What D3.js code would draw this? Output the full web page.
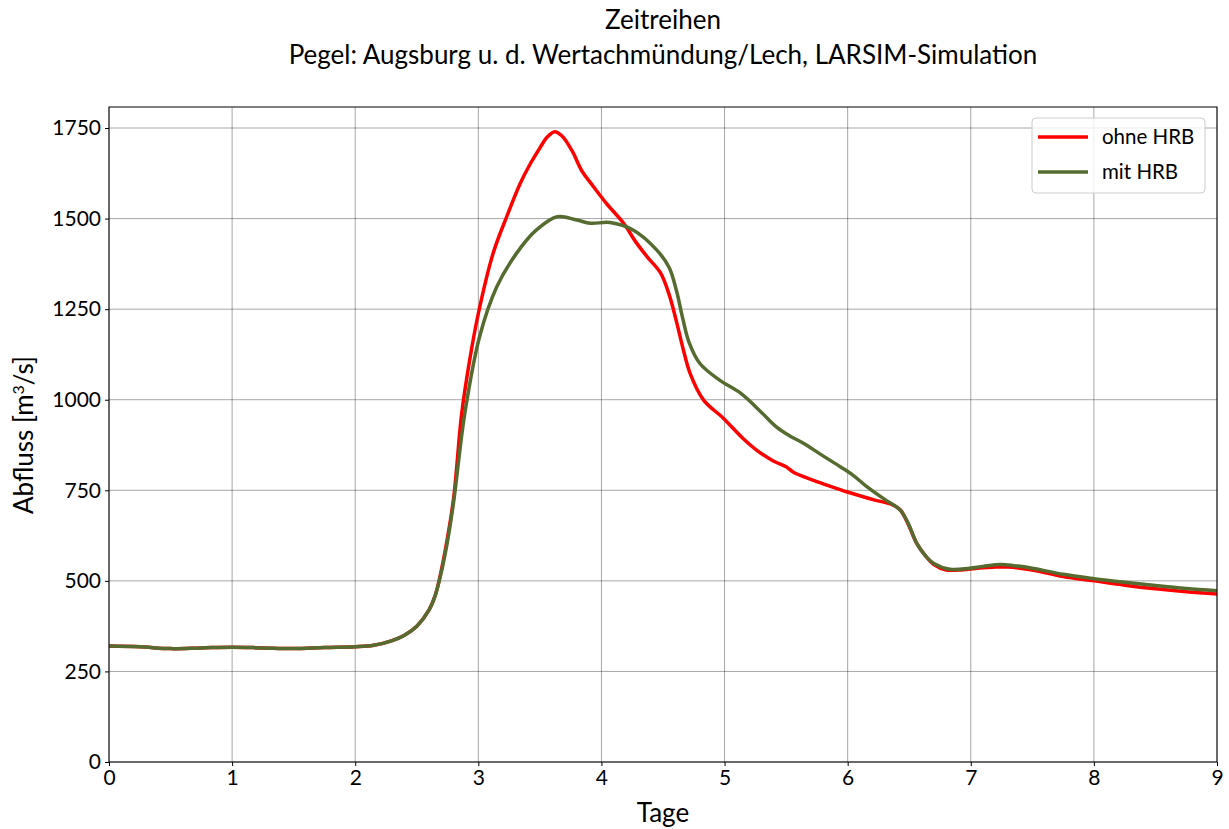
<!DOCTYPE html>
<html><head><meta charset="utf-8">
<script src="https://cdn.jsdelivr.net/npm/d3@7"></script>
<style>body{margin:0;background:#fff}text{font-family:Lato,"Open Sans",sans-serif;fill:#000}</style>
</head><body><svg id="c" width="1229" height="829"></svg>
<script>
const tOhne = [0,0.25,0.5,0.75,1,1.25,1.5,1.75,2,2.15,2.3,2.4,2.5,2.6,2.65,2.7,2.75,2.8,2.865,2.93,3.0,3.12,3.23,3.34,3.42,3.5,3.56,3.62,3.68,3.76,3.84,3.92,4.04,4.18,4.28,4.37,4.48,4.55,4.61,4.66,4.72,4.83,4.99,5.15,5.26,5.4,5.5,5.56,5.7,5.85,5.99,6.2,6.37,6.43,6.5,6.56,6.63,6.7,6.8,6.9,7,7.2,7.3,7.5,7.75,8,8.25,8.5,8.75,9];
const ohneHRB = [320,318,313,315,317,315,313,316,318,322,335,350,375,420,460,530,620,730,962,1110,1238,1404,1505,1597,1650,1695,1725,1740,1728,1688,1632,1595,1542,1487,1435,1395,1350,1290,1215,1145,1073,999,949,893,861,830,815,800,780,762,746,725,709,695,650,604,570,545,530,530,533,538,538,530,512,500,488,478,470,464];
const tMit = [0,0.25,0.5,0.75,1,1.25,1.5,1.75,2,2.15,2.3,2.4,2.5,2.6,2.65,2.7,2.75,2.8,2.89,3.01,3.15,3.31,3.47,3.64,3.8,3.91,4.07,4.26,4.45,4.55,4.61,4.66,4.71,4.8,4.96,5.13,5.3,5.42,5.53,5.64,5.8,5.94,6.05,6.155,6.3,6.425,6.49,6.56,6.63,6.7,6.83,6.99,7.1,7.24,7.35,7.5,7.75,8,8.25,8.5,8.75,9];
const mitHRB = [320,318,313,315,317,315,313,316,318,322,335,350,375,420,460,525,610,720,962,1174,1312,1404,1468,1505,1496,1487,1489,1468,1413,1365,1300,1225,1160,1100,1054,1018,965,925,900,880,845,815,790,760,725,696,660,604,570,548,532,535,540,545,542,535,518,506,496,487,479,473];
const xTicks = [0,1,2,3,4,5,6,7,8,9];
const yTicks = [0,250,500,750,1000,1250,1500,1750];
const seriesNames = ["ohne HRB","mit HRB"];
const colors = ["#ff0000","#556b2f"];
const titleLines = ["Zeitreihen","Pegel: Augsburg u. d. Wertachmündung/Lech, LARSIM-Simulation"];

const L=109,R=1217,T=107,B=762;
const svg=d3.select("#c");
const x=d3.scaleLinear().domain([0,9]).range([L,R]);
const y=d3.scaleLinear().domain([0,1808]).range([B,T]);

// grid
svg.append("g").selectAll("line").data(xTicks).join("line")
 .attr("x1",d=>x(d)).attr("x2",d=>x(d)).attr("y1",T).attr("y2",B)
 .attr("stroke","#000").attr("stroke-opacity",0.35).attr("stroke-width",1);
svg.append("g").selectAll("line").data(yTicks).join("line")
 .attr("y1",d=>y(d)).attr("y2",d=>y(d)).attr("x1",L).attr("x2",R)
 .attr("stroke","#000").attr("stroke-opacity",0.35).attr("stroke-width",1);

const line=d3.line().curve(d3.curveCatmullRom.alpha(0.5));
const dOhne=tOhne.map((t,i)=>[x(t),y(ohneHRB[i])]);
const dMit=tMit.map((t,i)=>[x(t),y(mitHRB[i])]);
svg.append("clipPath").attr("id","cp").append("rect").attr("x",L).attr("y",T).attr("width",R-L).attr("height",B-T);
svg.append("path").attr("d",line(dOhne)).attr("fill","none").attr("stroke",colors[0]).attr("stroke-width",3.5).attr("clip-path","url(#cp)");
svg.append("path").attr("d",line(dMit)).attr("fill","none").attr("stroke",colors[1]).attr("stroke-width",3.5).attr("clip-path","url(#cp)");

// axes
const xa=svg.append("g").attr("transform",`translate(0,${B})`).call(d3.axisBottom(x).tickValues(xTicks).tickSize(4).tickPadding(4).tickFormat(d3.format("d")));
const ya=svg.append("g").attr("transform",`translate(${L},0)`).call(d3.axisLeft(y).tickValues(yTicks).tickSize(4).tickPadding(4).tickFormat(d3.format("d")));
[xa,ya].forEach(a=>{a.select(".domain").remove();a.selectAll("text").style("font-size","21px").style("font-family","Lato");});
svg.append("rect").attr("x",L).attr("y",T).attr("width",R-L).attr("height",B-T).attr("fill","none").attr("stroke","#000").attr("stroke-width",1);

// titles
svg.append("text").attr("x",(L+R)/2).attr("y",29).attr("text-anchor","middle").style("font-size","26px").text(titleLines[0]);
svg.append("text").attr("x",(L+R)/2).attr("y",64).attr("text-anchor","middle").style("font-size","26px").text(titleLines[1]);
svg.append("text").attr("x",(L+R)/2).attr("y",822).attr("text-anchor","middle").style("font-size","26px").text("Tage");
const yl=svg.append("text").attr("transform","translate(33,435) rotate(-90)").attr("text-anchor","middle").style("font-size","26px");
yl.append("tspan").text("Abfluss [m");
yl.append("tspan").attr("dy",-9).style("font-size","16px").text("3");
yl.append("tspan").attr("dy",9).text("/s]");

// legend
const lg=svg.append("g");
lg.append("rect").attr("x",1032).attr("y",118).attr("width",173).attr("height",75).attr("rx",4)
 .attr("fill","#fff").attr("fill-opacity",0.8).attr("stroke","#ccc");
seriesNames.forEach((n,i)=>{
  const yy=137+i*35;
  lg.append("line").attr("x1",1038).attr("x2",1088).attr("y1",yy).attr("y2",yy).attr("stroke",colors[i]).attr("stroke-width",3.5);
  lg.append("text").attr("x",1102).attr("y",yy+7).style("font-size","20.5px").text(n);
});
</script></body></html>
